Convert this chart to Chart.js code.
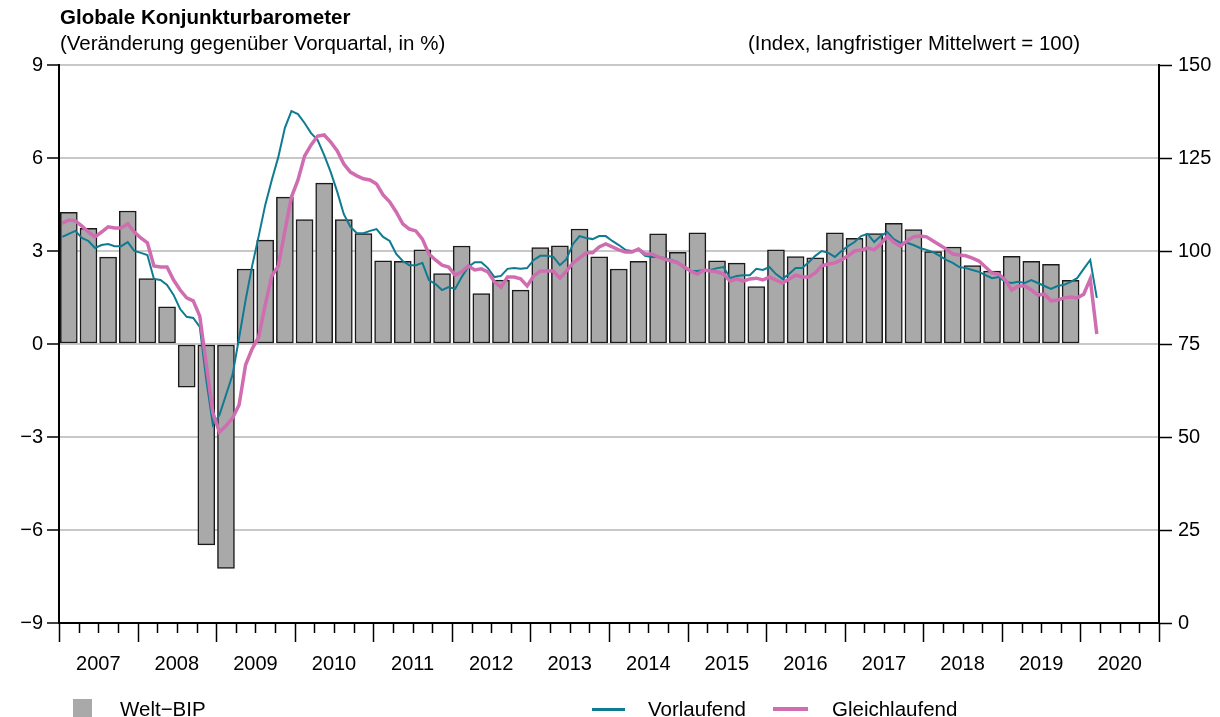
<!DOCTYPE html>
<html>
<head>
<meta charset="utf-8">
<script src="https://cdn.jsdelivr.net/npm/chart.js@4.4.1/dist/chart.umd.min.js"></script>
<style>
  body { margin: 0; background: #fff; font-family: 'Liberation Sans', Arial, sans-serif; color: #000; }
  #wrap { position: relative; width: 1220px; height: 717px; overflow: hidden; }
  #wrap canvas { position: absolute; left: 0; top: 0; }
  .txt { position: absolute; font-size: 20.5px; line-height: 24px; white-space: nowrap; }
  .key { position: absolute; }
</style>
</head>
<body>
<div id="wrap">
  <canvas id="chart" width="1220" height="717"></canvas>
  <div class="txt" style="left:60px;top:5px;font-weight:bold">Globale Konjunkturbarometer</div>
  <div class="txt" style="left:60px;top:31px">(Veränderung gegenüber Vorquartal, in %)</div>
  <div class="txt" style="right:140px;top:31px">(Index, langfristiger Mittelwert = 100)</div>
  <div class="key" style="left:73px;top:699px;width:19px;height:19px;background:#a9a9a9"></div>
  <div class="txt" style="left:120px;top:697px">Welt−BIP</div>
  <div class="key" style="left:592px;top:708px;width:33px;height:3px;background:#0f7b91"></div>
  <div class="txt" style="left:648px;top:697px">Vorlaufend</div>
  <div class="key" style="left:773px;top:707px;width:35px;height:4px;background:#cf6db0"></div>
  <div class="txt" style="left:832px;top:697px">Gleichlaufend</div>
</div>
<script>
// year labels on the x axis
const years = ["2007", "2008", "2009", "2010", "2011", "2012", "2013", "2014", "2015", "2016", "2017", "2018", "2019", "2020"];

// world GDP, % change on previous quarter, 2007Q1 - 2019Q4
const gdp = [
  4.25, 3.73, 2.80, 4.29, 2.11, 1.20, -1.39, -6.48, -7.24, 2.42, 3.35, 4.74,
  4.01, 5.19, 4.01, 3.56, 2.68, 2.67, 3.04, 2.27, 3.16, 1.63, 2.06, 1.74,
  3.11, 3.17, 3.71, 2.81, 2.42, 2.67, 3.55, 2.96, 3.59, 2.68, 2.61, 1.85,
  3.04, 2.82, 2.78, 3.59, 3.41, 3.56, 3.89, 3.69, 2.98, 3.13, 2.53, 2.35,
  2.83, 2.67, 2.57, 2.05
];

// leading barometer, monthly index, Jan 2007 - Mar 2020
const vorlaufend = [
  103.8, 104.6, 105.4, 103.5, 102.7, 100.8, 101.6, 101.9, 101.3, 101.3, 102.4, 100.0,
  99.5, 98.9, 92.5, 92.2, 90.9, 88.2, 84.4, 82.3, 82.0, 79.6, 65.3, 53.2,
  55.9, 61.3, 66.7, 76.6, 86.8, 96.0, 104.0, 112.4, 119.1, 125.3, 133.1, 137.6,
  136.8, 134.4, 131.7, 129.8, 125.8, 121.2, 115.9, 109.9, 106.5, 104.8, 104.8, 105.4,
  105.9, 103.8, 102.7, 99.2, 97.3, 96.2, 96.2, 96.8, 92.2, 91.1, 89.5, 90.3,
  89.8, 93.0, 95.7, 97.0, 97.0, 95.4, 93.0, 93.3, 95.2, 95.4, 95.2, 95.4,
  97.6, 98.7, 98.7, 98.4, 96.2, 97.8, 101.9, 104.0, 103.5, 103.2, 104.0, 104.0,
  102.7, 101.6, 100.3, 100.0, 100.3, 98.7, 98.4, 98.4, 98.1, 97.6, 97.0, 95.4,
  94.6, 94.6, 94.9, 94.9, 95.4, 95.7, 92.7, 93.3, 93.5, 93.5, 95.2, 94.9,
  95.7, 93.8, 92.5, 93.8, 95.4, 95.4, 97.0, 98.7, 100.0, 99.5, 98.4, 100.0,
  101.3, 102.4, 104.0, 104.6, 102.4, 104.0, 105.1, 103.2, 102.2, 102.2, 101.6, 100.8,
  100.3, 99.7, 98.7, 97.6, 96.8, 95.7, 95.4, 94.9, 94.4, 93.5, 92.7, 93.0,
  91.7, 91.4, 91.7, 91.4, 92.2, 91.4, 90.6, 89.8, 90.6, 90.9, 91.7, 92.7,
  95.2, 97.6, 87.4
];

// coincident barometer, monthly index, Jan 2007 - Mar 2020
const gleichlaufend = [
  107.5, 108.3, 108.1, 106.7, 105.1, 103.8, 105.1, 106.5, 106.2, 106.2, 107.3, 105.1,
  103.5, 102.2, 96.0, 95.7, 95.7, 92.2, 89.5, 87.4, 86.6, 82.5, 69.4, 56.5,
  51.3, 53.0, 55.1, 58.6, 69.4, 73.7, 76.9, 85.5, 93.3, 96.0, 105.4, 114.5,
  119.1, 125.5, 128.5, 130.9, 131.2, 129.3, 126.9, 123.4, 121.2, 120.2, 119.4, 119.1,
  118.0, 115.1, 113.2, 110.5, 107.3, 105.9, 105.4, 103.2, 99.2, 97.6, 96.2, 95.7,
  93.5, 94.4, 96.0, 94.9, 95.2, 94.4, 91.7, 90.3, 93.0, 93.0, 92.5, 90.6,
  93.3, 94.6, 94.6, 94.6, 92.7, 94.6, 96.8, 98.1, 99.5, 99.5, 101.1, 101.9,
  101.1, 100.3, 99.7, 99.7, 100.5, 99.2, 99.2, 98.4, 97.8, 97.3, 96.8, 95.7,
  94.6, 93.8, 94.9, 94.6, 94.4, 93.8, 91.9, 92.5, 91.9, 92.5, 92.7, 92.2,
  93.0, 92.2, 91.4, 92.5, 93.5, 93.0, 93.0, 94.1, 96.0, 96.5, 96.8, 97.6,
  98.7, 100.0, 100.3, 100.8, 100.3, 101.9, 104.0, 102.4, 101.3, 102.7, 103.8, 104.0,
  103.8, 102.7, 101.6, 100.5, 99.2, 98.9, 98.7, 98.1, 97.3, 95.7, 94.1, 93.8,
  92.2, 89.5, 90.6, 90.6, 89.5, 88.2, 88.4, 86.6, 86.8, 87.4, 87.6, 87.4,
  88.4, 92.5, 77.7
];

// x axis runs in months from Jan 2007; quarters sit at their mid-point
const gdpPoints = gdp.map((v, i) => ({ x: i * 3 + 1.5, y: v }));
const vorPoints = vorlaufend.map((v, i) => ({ x: i + 0.5, y: v }));
const gleichPoints = gleichlaufend.map((v, i) => ({ x: i + 0.5, y: v }));

Chart.defaults.font.family = "'Liberation Sans', Arial, sans-serif";
Chart.defaults.font.size = 20;
Chart.defaults.color = "#000";

// quarter and year tick marks under the x axis
const xTicks = {
  id: "xTicks",
  afterDraw(chart) {
    const sx = chart.scales.x;
    const ctx = chart.ctx;
    const y0 = chart.chartArea.bottom;
    ctx.save();
    ctx.strokeStyle = "#000";
    ctx.lineWidth = 1.5;
    for (let v = sx.min; v <= sx.max; v += 3) {
      const px = Math.round(sx.getPixelForValue(v)) + 0.5;
      ctx.beginPath();
      ctx.moveTo(px, y0);
      ctx.lineTo(px, y0 + (v % 12 === 0 ? 19 : 10));
      ctx.stroke();
    }
    ctx.restore();
  },
};

const minus = (v) => String(v).replace("-", "\u2212");

new Chart(document.getElementById("chart"), {
  type: "bar",
  data: {
    datasets: [
      {
        type: "line",
        label: "Gleichlaufend",
        data: gleichPoints,
        yAxisID: "y2",
        borderColor: "#cf6db0",
        borderWidth: 3.5,
        pointRadius: 0,
        tension: 0,
        order: 1,
      },
      {
        type: "line",
        label: "Vorlaufend",
        data: vorPoints,
        yAxisID: "y2",
        borderColor: "#0f7b91",
        borderWidth: 2,
        pointRadius: 0,
        tension: 0,
        order: 2,
      },
      {
        type: "bar",
        label: "Welt-BIP",
        data: gdpPoints,
        yAxisID: "y",
        backgroundColor: "#a9a9a9",
        borderColor: "#1a1a1a",
        borderWidth: 1.5,
        borderSkipped: false,
        barThickness: 17,
        order: 3,
      },
    ],
  },
  options: {
    responsive: false,
    animation: false,
    layout: { padding: { left: 0, right: 0, top: 65, bottom: 24 } },
    plugins: { legend: { display: false }, tooltip: { enabled: false } },
    scales: {
      x: {
        type: "linear",
        min: 0,
        max: 168,
        offset: false,
        grid: { display: false, offset: false },
        border: { display: true, color: "#000", width: 2 },
        ticks: {
          stepSize: 3,
          autoSkip: false,
          maxRotation: 0,
          padding: 21,
          callback: (v) => (v % 12 === 6 ? years[(v - 6) / 12] : ""),
        },
        afterFit: (s) => { s.height = 70; },
      },
      y: {
        position: "left",
        min: -9,
        max: 9,
        grid: {
          color: (c) => (c.tick && c.tick.value === -9 ? "rgba(0,0,0,0)" : "#c8c8c8"),
          lineWidth: 2,
          drawTicks: true,
          tickLength: 12,
          tickColor: "#000",
          tickWidth: 1.5,
        },
        border: { display: true, color: "#000", width: 2 },
        ticks: { stepSize: 3, padding: 4, callback: minus },
        afterFit: (s) => { s.width = 59; },
      },
      y2: {
        position: "right",
        min: 0,
        max: 150,
        grid: {
          drawOnChartArea: false,
          drawTicks: true,
          tickLength: 13,
          tickColor: "#000",
          tickWidth: 1.5,
        },
        border: { display: true, color: "#000", width: 2 },
        ticks: { stepSize: 25, padding: 6 },
        afterFit: (s) => { s.width = 61; },
      },
    },
  },
  plugins: [xTicks],
});
</script>
</body>
</html>
